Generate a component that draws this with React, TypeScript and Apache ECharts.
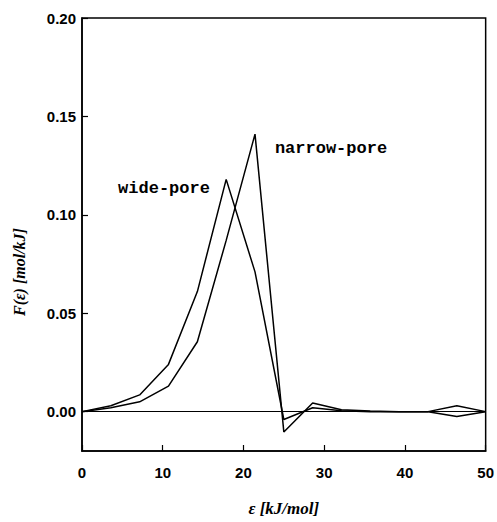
import React, { useEffect, useRef } from "react";
import * as echarts from "echarts";

const energies = [0, 3.57, 7.14, 10.71, 14.29, 17.86, 21.43, 25, 28.57, 32.14, 35.71, 39.29, 42.86, 46.43, 50];
const widePore = [0, 0.003, 0.0085, 0.024, 0.061, 0.118, 0.071, -0.004, 0.002, 0.0005, 0, 0, 0, 0.003, 0];
const narrowPore = [0, 0.002, 0.005, 0.013, 0.0355, 0.087, 0.141, -0.0103, 0.0044, 0.001, 0.0003, 0, 0, -0.0025, 0];
const yTicks = [0, 0.05, 0.1, 0.15, 0.2];
const seriesNames = ["wide-pore", "narrow-pore"];

export default function App() {
  const ref = useRef<HTMLDivElement>(null);
  useEffect(() => {
    if (!ref.current) return;
    const chart = echarts.init(ref.current, null, { renderer: "svg" });
    const pts = (ys: number[]) => energies.map((x, i) => [x, ys[i]]);
    const lineStyle = { color: "#000", width: 1.5 };
    chart.setOption({
      animation: false,
      backgroundColor: "#fff",
      grid: {
        left: 82,
        top: 18,
        right: 10,
        bottom: 59,
        show: true,
        borderColor: "#000",
        borderWidth: 1.5,
      },
      xAxis: {
        type: "value",
        min: 0,
        max: 50,
        interval: 10,
        name: "ε [kJ/mol]",
        nameLocation: "middle",
        nameGap: 49,
        nameTextStyle: {
          fontFamily: "Liberation Serif",
          fontStyle: "italic",
          fontWeight: "bold",
          fontSize: 17,
          color: "#000",
        },
        axisLine: { show: true, onZero: false, lineStyle: { color: "#000", width: 1.5 } },
        axisTick: { show: true, inside: true, length: 6, lineStyle: { color: "#000", width: 1.2 } },
        axisLabel: {
          margin: 14,
          fontFamily: "Liberation Sans",
          fontWeight: "bold",
          fontSize: 15,
          color: "#000",
        },
        splitLine: { show: false },
      },
      yAxis: {
        type: "value",
        min: -0.02,
        max: 0.2,
        axisLine: { show: true, onZero: false, lineStyle: { color: "#000", width: 1.5 } },
        axisTick: {
          show: true,
          inside: true,
          length: 6,
          customValues: yTicks,
          lineStyle: { color: "#000", width: 1.2 },
        },
        axisLabel: {
          customValues: yTicks,
          margin: 6,
          formatter: (v: number) => v.toFixed(2),
          fontFamily: "Liberation Sans",
          fontWeight: "bold",
          fontSize: 15,
          color: "#000",
        },
        splitLine: { show: false },
      },
      series: [
        {
          name: seriesNames[0],
          type: "line",
          data: pts(widePore),
          symbol: "none",
          lineStyle,
          markLine: {
            silent: true,
            symbol: "none",
            label: { show: false },
            lineStyle: { color: "#000", width: 1.2, type: "solid" },
            data: [{ yAxis: 0 }],
          },
        },
        {
          name: seriesNames[1],
          type: "line",
          data: pts(narrowPore),
          symbol: "none",
          lineStyle,
        },
      ],
      graphic: [
        {
          type: "text",
          x: 164,
          y: 188,
          style: {
            text: seriesNames[0],
            fontFamily: "Liberation Mono",
            fontWeight: "bold",
            fontSize: 17,
            fill: "#000",
            align: "center",
            verticalAlign: "middle",
          },
        },
        {
          type: "text",
          x: 331,
          y: 148,
          style: {
            text: seriesNames[1],
            fontFamily: "Liberation Mono",
            fontWeight: "bold",
            fontSize: 17,
            fill: "#000",
            align: "center",
            verticalAlign: "middle",
          },
        },
        {
          type: "text",
          x: 19,
          y: 272,
          rotation: Math.PI / 2,
          style: {
            text: "F(ε) [mol/kJ]",
            fontFamily: "Liberation Serif",
            fontStyle: "italic",
            fontWeight: "bold",
            fontSize: 16,
            fill: "#000",
            align: "center",
            verticalAlign: "middle",
          },
        },
      ],
    });
    return () => chart.dispose();
  }, []);
  return (
    <div
      ref={ref}
      style={{ position: "fixed", left: 0, top: 0, width: 497, height: 522 }}
    />
  );
}
